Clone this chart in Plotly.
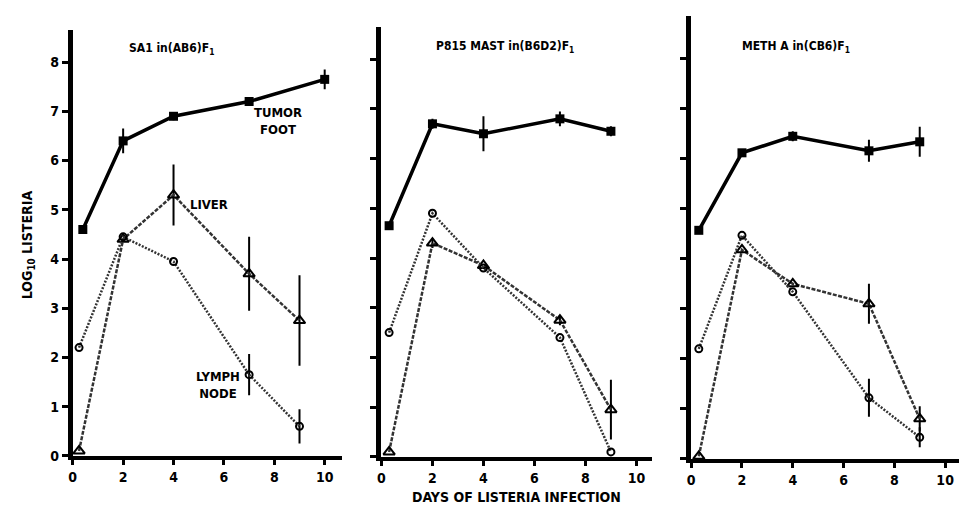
import plotly.graph_objects as go

# ---------------- data ----------------
days_tumor_1 = [0.4, 2, 4, 7, 10]
tumor_1 = [4.6, 6.4, 6.9, 7.2, 7.65]
tumor_1_err = [0, 0.25, 0.08, 0.08, 0.2]
days_org_1 = [0.25, 2, 4, 7, 9]
liver_1 = [0.1, 4.4, 5.3, 3.7, 2.75]
liver_1_err = [0, 0, 0.62, 0.75, 0.92]
lymph_1 = [2.2, 4.45, 3.95, 1.65, 0.6]
lymph_1_err = [0, 0, 0, 0.42, 0.35]

days_tumor_2 = [0.3, 2, 4, 7, 9]
tumor_2 = [4.65, 6.7, 6.5, 6.8, 6.55]
tumor_2_err = [0, 0.1, 0.35, 0.15, 0.1]
days_org_2 = [0.3, 2, 4, 7, 9]
liver_2 = [0.1, 4.3, 3.85, 2.75, 0.95]
liver_2_err = [0, 0.1, 0, 0.1, 0.6]
lymph_2 = [2.5, 4.9, 3.8, 2.4, 0.1]
lymph_2_err = [0, 0, 0, 0, 0]

days_tumor_3 = [0.3, 2, 4, 7, 9]
tumor_3 = [4.57, 6.12, 6.45, 6.16, 6.34]
tumor_3_err = [0, 0, 0.1, 0.22, 0.3]
days_org_3 = [0.3, 2, 4, 7, 9]
liver_3 = [0.05, 4.18, 3.5, 3.1, 0.8]
liver_3_err = [0, 0, 0, 0.4, 0.25]
lymph_3 = [2.2, 4.47, 3.34, 1.22, 0.43]
lymph_3_err = [0, 0, 0, 0.38, 0.2]

panel_titles = ["SA1 in(AB6)F<sub>1</sub>", "P815 MAST in(B6D2)F<sub>1</sub>", "METH A in(CB6)F<sub>1</sub>"]
x_ticks = [0, 2, 4, 6, 8, 10]
y_ticks = [0, 1, 2, 3, 4, 5, 6, 7, 8]

FONT = "DejaVu Sans Condensed, DejaVu Sans, sans-serif"
W, H = 967, 512


def fnt(size):
    return dict(family=FONT, size=size, color="black", weight="bold")


fig = go.Figure()

panels = [
    (days_tumor_1, tumor_1, tumor_1_err, days_org_1, liver_1, liver_1_err, lymph_1, lymph_1_err),
    (days_tumor_2, tumor_2, tumor_2_err, days_org_2, liver_2, liver_2_err, lymph_2, lymph_2_err),
    (days_tumor_3, tumor_3, tumor_3_err, days_org_3, liver_3, liver_3_err, lymph_3, lymph_3_err),
]

# pixel geometry for each panel: (x0 px, px/day, x max, y0 px, px/unit, y max)
geom = [
    (61, 25.3, 10.7, 455, 50.0, 8.65),
    (371, 25.6, 10.6, 456, 50.5, 8.65),
    (682, 25.5, 11.15, 458, 50.8, 8.85),
]

for i, (dt, tu, tue, do, li, lie, ly, lye) in enumerate(panels):
    n = "" if i == 0 else str(i + 1)
    xa, ya = "x" + n, "y" + n
    fig.add_trace(go.Scatter(
        x=dt, y=tu, xaxis=xa, yaxis=ya, mode="lines+markers",
        line=dict(color="black", width=3.5),
        marker=dict(symbol="square", size=9, color="black"),
        error_y=dict(type="data", array=tue, color="black", thickness=2, width=0),
        cliponaxis=False, showlegend=False))
    fig.add_trace(go.Scatter(
        x=do, y=li, xaxis=xa, yaxis=ya, mode="lines+markers",
        line=dict(color="#333333", width=2.5, dash="4px,1.5px"),
        marker=dict(symbol="triangle-up-open", size=10, color="black", line=dict(width=2, color="black")),
        error_y=dict(type="data", array=lie, color="black", thickness=2, width=0),
        cliponaxis=False, showlegend=False))
    fig.add_trace(go.Scatter(
        x=do, y=ly, xaxis=xa, yaxis=ya, mode="lines+markers",
        line=dict(color="#333333", width=2.5, dash="2px,1.5px"),
        marker=dict(symbol="circle-open", size=7, color="black", line=dict(width=2, color="black")),
        error_y=dict(type="data", array=lye, color="black", thickness=2, width=0),
        cliponaxis=False, showlegend=False))

    x0, pxd, xmax, y0, pxu, ymax = geom[i]
    xdom = [x0 / W, min(1.0, (x0 + xmax * pxd) / W)]
    ydom = [(H - y0) / H, min(1.0, (H - (y0 - ymax * pxu)) / H)]
    fig.layout["xaxis" + n] = dict(
        domain=xdom, range=[0, xmax], anchor=ya,
        showline=True, linewidth=4, linecolor="black",
        ticks="outside", ticklen=5, tickwidth=3, tickcolor="black",
        tickvals=x_ticks, ticktext=[str(v) for v in x_ticks],
        tickfont=fnt(14),
        showgrid=False, zeroline=False, fixedrange=True)
    fig.layout["yaxis" + n] = dict(
        domain=ydom, range=[0, ymax], anchor=xa,
        showline=True, linewidth=5, linecolor="black",
        ticks="outside", ticklen=6, tickwidth=3, tickcolor="black",
        tickvals=y_ticks, ticktext=[str(v) for v in y_ticks],
        showticklabels=(i == 0),
        tickfont=fnt(14),
        showgrid=False, zeroline=False, fixedrange=True)

annots = []
title_pos = [(160, 42), (495, 40), (787, 40)]
for t, (px, py) in zip(panel_titles, title_pos):
    annots.append(dict(text=t, x=px / W, y=(H - py) / H, xref="paper", yref="paper",
                       xanchor="center", yanchor="middle", showarrow=False,
                       font=fnt(12)))

labels_p1 = [("TUMOR<br>FOOT", 8.15, 6.8), ("LIVER", 5.4, 5.1), ("LYMPH<br>NODE", 5.75, 1.45)]
for t, xv, yv in labels_p1:
    annots.append(dict(text=t, x=xv, y=yv, xref="x", yref="y", showarrow=False,
                       xanchor="center", yanchor="middle",
                       font=fnt(13)))

annots.append(dict(text="DAYS OF LISTERIA INFECTION", x=507 / W, y=(H - 497) / H,
                   xref="paper", yref="paper", showarrow=False, xanchor="center", yanchor="middle",
                   font=fnt(14)))
annots.append(dict(text="LOG<sub>10</sub> LISTERIA", x=16 / W, y=(H - 240) / H,
                   xref="paper", yref="paper", showarrow=False, textangle=-90,
                   xanchor="center", yanchor="middle",
                   font=fnt(14)))

fig.update_layout(
    width=W, height=H, margin=dict(l=0, r=0, t=0, b=0),
    paper_bgcolor="white", plot_bgcolor="white",
    annotations=annots, showlegend=False)

fig.write_html("out.html", config={"displayModeBar": False})
